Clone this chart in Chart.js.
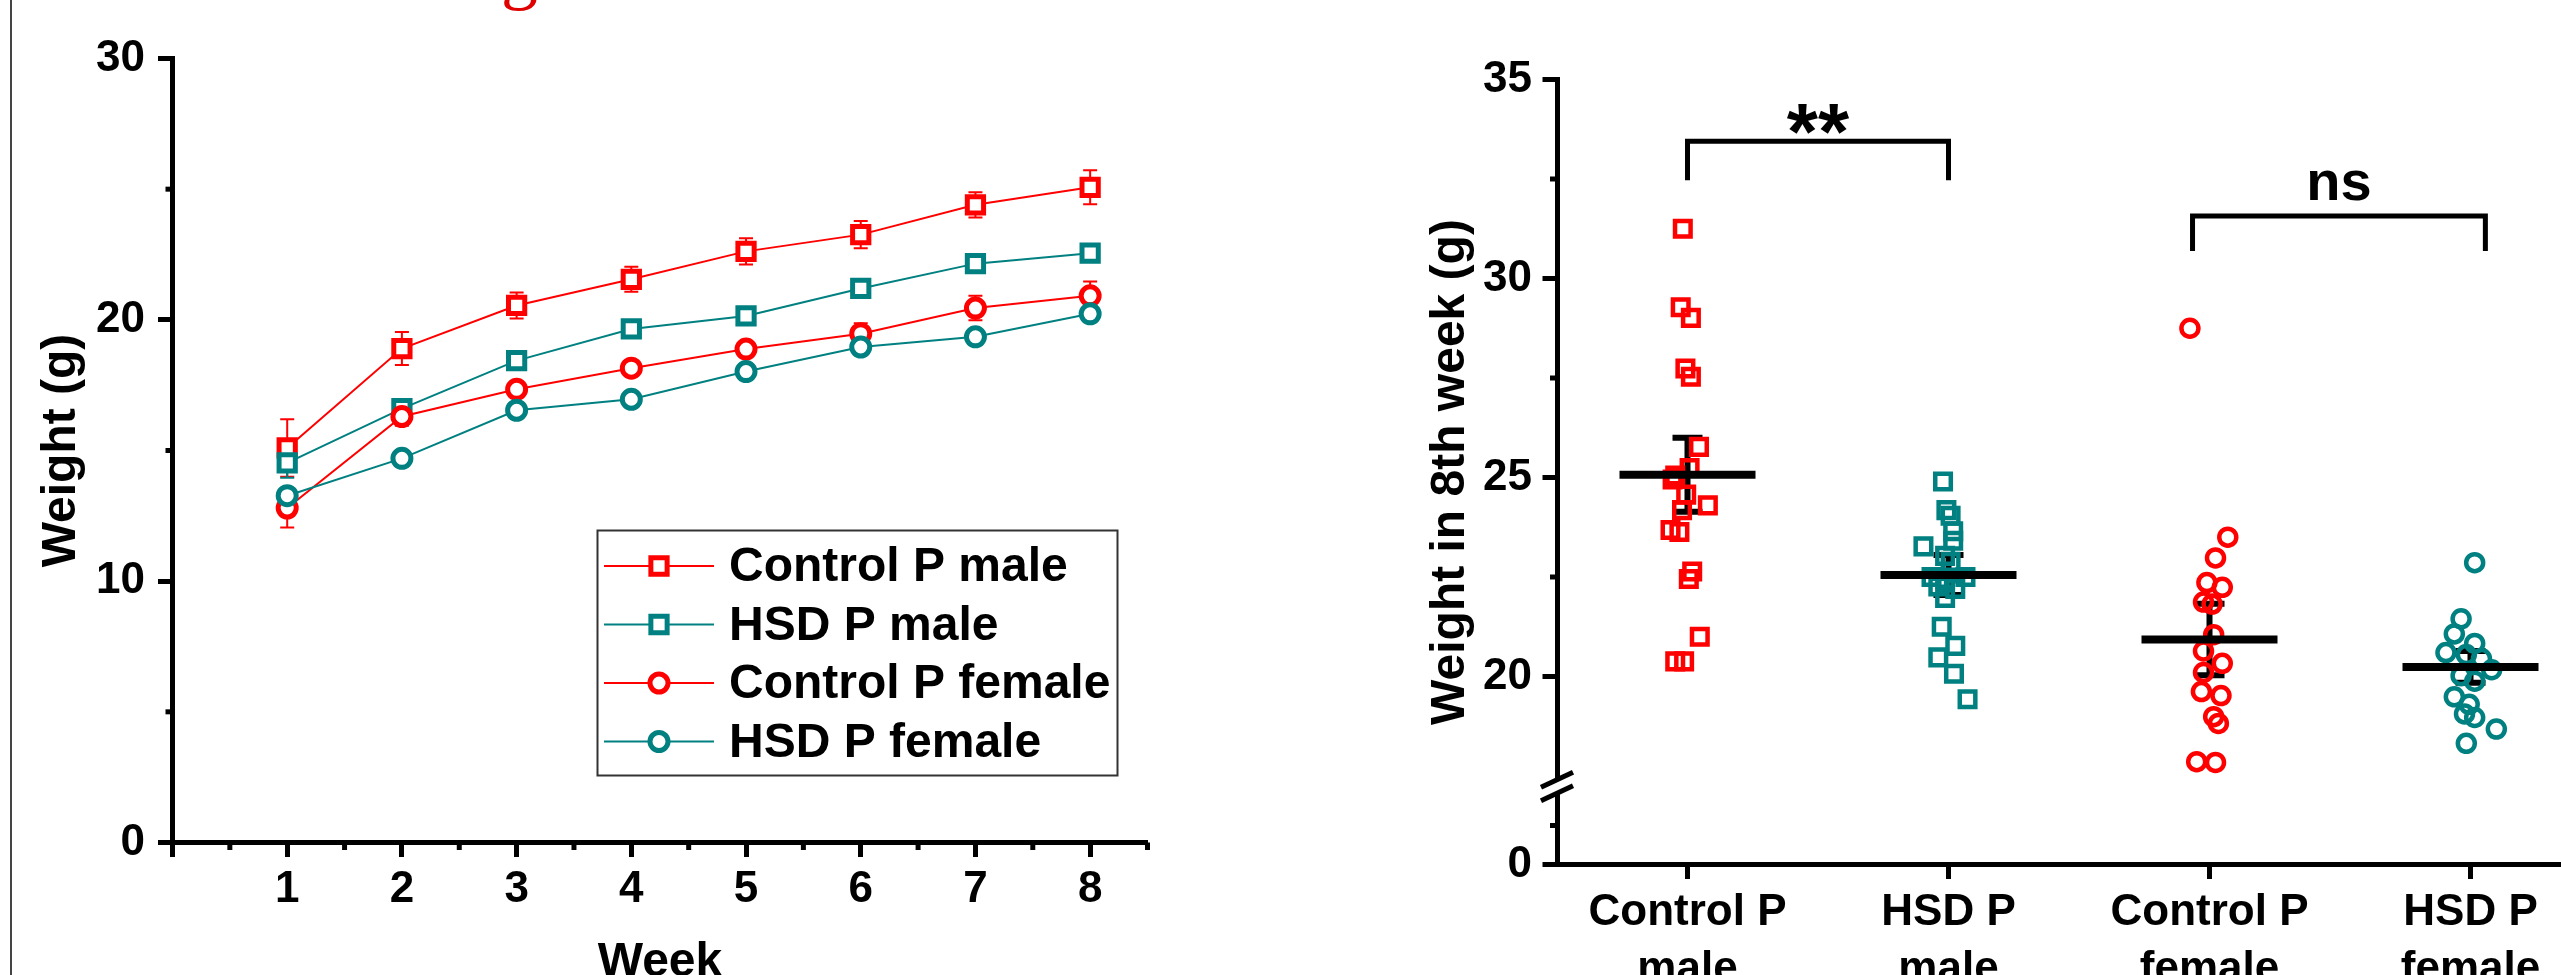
<!DOCTYPE html>
<html>
<head>
<meta charset="utf-8">
<title>Body weight</title>
<script src="https://cdn.jsdelivr.net/npm/chart.js@4.4.1/dist/chart.umd.min.js"></script>
<style>
  html, body { margin: 0; padding: 0; background: #fff; }
  body { position: relative; width: 2561px; height: 975px; overflow: hidden; }
  canvas { position: absolute; top: 0; }
  #weightChart { left: 0; }
  #week8Chart { left: 1300px; }
  .frame { position: absolute; left: 10px; top: 0; width: 2px; height: 975px; background: #444; }
  .cut-title { position: absolute; left: 501px; top: -67px; font: 74px/74px "Liberation Serif", serif; color: #e00000; white-space: nowrap; }
</style>
</head>
<body>
<div class="frame"></div>
<div class="cut-title">g</div>
<canvas id="weightChart" width="1200" height="1000"></canvas>
<canvas id="week8Chart" width="1320" height="1000"></canvas>
<script>
// ---- left panel: weekly weight, mean ± SEM ----
const weeks = [1, 2, 3, 4, 5, 6, 7, 8];
const weekTicks = [0, 1, 2, 3, 4, 5, 6, 7, 8];
const weekMinorTicks = [0.5, 1.5, 2.5, 3.5, 4.5, 5.5, 6.5, 7.5, 8.5];
const weightTicks = [0, 10, 20, 30];
const weightMinorTicks = [5, 15, 25];

const controlMale = [15.1, 18.9, 20.55, 21.55, 22.62, 23.26, 24.4, 25.07];
const controlMaleSem = [1.1, 0.63, 0.5, 0.48, 0.5, 0.52, 0.48, 0.65];
const hsdMale = [14.53, 16.6, 18.44, 19.65, 20.15, 21.2, 22.15, 22.55];
const hsdMaleSem = [0.57, 0.3, 0.3, 0.3, 0.3, 0.3, 0.3, 0.3];
const controlFemale = [12.8, 16.3, 17.34, 18.15, 18.88, 19.47, 20.45, 20.92];
const controlFemaleSem = [0.75, 0.35, 0.3, 0.3, 0.3, 0.4, 0.47, 0.55];
const hsdFemale = [13.27, 14.7, 16.54, 16.96, 18.02, 18.96, 19.35, 20.23];
const hsdFemaleSem = [0.3, 0.3, 0.3, 0.3, 0.3, 0.3, 0.3, 0.3];

// ---- right panel: weight in 8th week, individual animals ----
const groups = ["Control P male", "HSD P male", "Control P female", "HSD P female"];
const groupTickLabels = [["Control P", "male"], ["HSD P", "male"], ["Control P", "female"], ["HSD P", "female"]];
const week8Ticks = [20, 25, 30, 35];
const week8MinorTicks = [22.5, 27.5, 32.5];
const week8LowTicks = [0];
const week8LowMinorTicks = [1];

const controlMale8 = [31.25, 29.28, 29.01, 27.74, 27.53, 25.77, 25.24, 25.05, 24.95, 24.57, 24.3, 24.18, 23.68, 23.63, 22.64, 22.45, 21.0, 20.38, 20.38];
const controlMale8Jitter = [-0.018, -0.026, 0.013, -0.008, 0.013, 0.044, 0.008, -0.047, -0.057, -0.005, 0.078, -0.021, -0.065, -0.031, 0.018, 0.005, 0.047, -0.047, -0.013];
const hsdMale8 = [24.9, 24.18, 24.04, 23.65, 23.41, 23.27, 23.03, 22.88, 22.5, 22.45, 22.5, 22.26, 22.2, 21.97, 21.25, 20.77, 20.48, 20.07, 19.43];
const hsdMale8Jitter = [-0.021, -0.008, 0.008, 0.018, 0.018, -0.096, -0.013, 0.008, -0.065, -0.013, 0.065, -0.039, 0.026, -0.013, -0.026, 0.026, -0.039, 0.021, 0.073];
const controlFemale8 = [28.75, 23.5, 22.98, 22.36, 22.24, 21.87, 21.82, 21.05, 20.64, 20.33, 20.1, 19.62, 19.52, 18.99, 18.82, 17.86, 17.84];
const controlFemale8Jitter = [-0.075, 0.07, 0.023, -0.01, 0.049, -0.023, 0.01, 0.016, -0.023, 0.049, -0.023, -0.031, 0.044, 0.016, 0.034, -0.049, 0.023];
const hsdFemale8 = [22.86, 21.45, 21.07, 20.83, 20.6, 20.55, 20.45, 20.17, 20.02, 19.88, 19.49, 19.3, 19.06, 18.97, 18.68, 18.32];
const hsdFemale8Jitter = [0.016, -0.036, -0.062, 0.016, -0.094, -0.016, 0.042, 0.081, -0.036, 0.016, -0.062, -0.005, -0.023, 0.016, 0.099, -0.016];

const week8Means = [25.07, 22.55, 20.93, 20.24];
const week8Sems = [0.93, 0.5, 0.9, 0.4];

// brackets: x extent in category units, y in grams
const comparisons = [
  { from: 0, to: 1, top: 33.45, foot: 32.47, text: "**" },
  { from: 1.935, to: 3.057, top: 31.57, foot: 30.69, text: "ns" }
];

const RED = "#ff0000";
const TEAL = "#008080";
const FAMILY = '"Liberation Sans", Arial, sans-serif';

Chart.defaults.font.family = FAMILY;
Chart.defaults.color = "#000";

function boldFont(size, lineHeight) {
  return { family: FAMILY, size, weight: "bold", lineHeight: lineHeight || 1.2 };
}

function axisStyle() {
  return {
    grid: { drawOnChartArea: false, drawTicks: true, tickLength: 14.5, tickWidth: 5, tickColor: "#000" },
    border: { display: true, color: "#000", width: 5 }
  };
}

function fixedTicks(values) {
  return (scale) => {
    scale.ticks = values.map((value) => ({ value }));
  };
}

// short ticks between the labelled ones
function minorTicks(list) {
  return {
    id: "minorTicks",
    afterDraw(chart) {
      const { ctx } = chart;
      ctx.save();
      ctx.strokeStyle = "#000";
      ctx.lineWidth = 5;
      list.forEach(({ axis, values }) => {
        const scale = chart.scales[axis];
        values.forEach((value) => {
          const p = scale.getPixelForValue(value);
          ctx.beginPath();
          if (scale.isHorizontal()) {
            ctx.moveTo(p, scale.top);
            ctx.lineTo(p, scale.top + 7.5);
          } else {
            ctx.moveTo(scale.right - 7, p);
            ctx.lineTo(scale.right, p);
          }
          ctx.stroke();
        });
      });
      ctx.restore();
    }
  };
}

// ---------- left chart ----------
function weekSeries(label, values, sems, color, style, radius, order) {
  return {
    label,
    order,
    data: values.map((v, i) => ({ x: weeks[i], y: v })),
    sems,
    borderColor: color,
    borderWidth: 2,
    pointStyle: style,
    pointRadius: radius,
    pointBorderWidth: 5,
    pointBorderColor: color,
    pointBackgroundColor: "#fff",
    tension: 0,
    fill: false
  };
}

const weekDatasets = [
  weekSeries("Control P male", controlMale, controlMaleSem, RED, "rect", 11.5, 4),
  weekSeries("HSD P male", hsdMale, hsdMaleSem, TEAL, "rect", 11.5, 3),
  weekSeries("Control P female", controlFemale, controlFemaleSem, RED, "circle", 9, 2),
  weekSeries("HSD P female", hsdFemale, hsdFemaleSem, TEAL, "circle", 9, 1)
];

const errorBars = {
  id: "errorBars",
  beforeDatasetsDraw(chart) {
    const { ctx, scales: { x, y } } = chart;
    chart.data.datasets.forEach((ds) => {
      ctx.save();
      ctx.strokeStyle = ds.borderColor;
      ctx.lineWidth = 2;
      ds.data.forEach((p, i) => {
        const px = x.getPixelForValue(p.x);
        const top = y.getPixelForValue(p.y + ds.sems[i]);
        const bottom = y.getPixelForValue(p.y - ds.sems[i]);
        ctx.beginPath();
        ctx.moveTo(px, top);
        ctx.lineTo(px, bottom);
        ctx.moveTo(px - 7, top);
        ctx.lineTo(px + 7, top);
        ctx.moveTo(px - 7, bottom);
        ctx.lineTo(px + 7, bottom);
        ctx.stroke();
      });
      ctx.restore();
    });
  }
};

const boxLegend = {
  id: "boxLegend",
  afterDraw(chart) {
    const { ctx } = chart;
    ctx.save();
    ctx.strokeStyle = "#333";
    ctx.lineWidth = 2;
    ctx.strokeRect(597.5, 530.5, 520, 245);
    ctx.font = "bold 48px " + FAMILY;
    ctx.textBaseline = "middle";
    ctx.textAlign = "left";
    chart.data.datasets.forEach((ds, i) => {
      const rowY = 566 + i * 58.5;
      ctx.strokeStyle = ds.borderColor;
      ctx.lineWidth = 2;
      ctx.beginPath();
      ctx.moveTo(604, rowY);
      ctx.lineTo(714, rowY);
      ctx.stroke();
      ctx.fillStyle = "#fff";
      ctx.lineWidth = ds.pointBorderWidth;
      Chart.helpers.drawPoint(ctx, { pointStyle: ds.pointStyle, radius: ds.pointRadius, rotation: 0, borderWidth: ds.pointBorderWidth }, 659, rowY);
      ctx.fillStyle = "#000";
      ctx.fillText(ds.label, 729, rowY + 2);
    });
    ctx.restore();
  }
};

new Chart(document.getElementById("weightChart"), {
  type: "line",
  data: { datasets: weekDatasets },
  options: {
    responsive: false,
    animation: false,
    events: [],
    layout: { padding: { left: 0, top: 58.5, right: 52.5, bottom: 0 } },
    plugins: { legend: { display: false }, tooltip: { enabled: false } },
    scales: {
      x: {
        type: "linear",
        min: 0,
        max: 8.5,
        afterBuildTicks: fixedTicks(weekTicks),
        afterFit: (scale) => { scale.height = 157.5; },
        ticks: { font: boldFont(44), padding: 6, maxRotation: 0, autoSkip: false, callback: (v) => (v === 0 ? "" : String(v)) },
        title: { display: true, text: "Week", font: boldFont(48), padding: { top: 0, bottom: 8 } },
        ...axisStyle()
      },
      y: {
        type: "linear",
        min: 0,
        max: 30,
        afterBuildTicks: fixedTicks(weightTicks),
        afterFit: (scale) => { scale.width = 172.5; },
        ticks: { font: boldFont(44), padding: 13 },
        title: { display: true, text: "Weight (g)", font: boldFont(48), padding: { top: 33, bottom: 0 } },
        ...axisStyle()
      }
    }
  },
  plugins: [errorBars, boxLegend, minorTicks([{ axis: "x", values: weekMinorTicks }, { axis: "y", values: weightMinorTicks }])]
});

// ---------- right chart ----------
function groupSeries(label, index, values, jitter, color, style, radius) {
  return {
    label,
    data: values.map((v, i) => ({ x: index + jitter[i], y: v })),
    yAxisID: "y",
    showLine: false,
    pointStyle: style,
    pointRadius: radius,
    pointBorderWidth: 4.5,
    pointBorderColor: color,
    pointBackgroundColor: "rgba(0,0,0,0)"
  };
}

const week8Datasets = [
  groupSeries(groups[0], 0, controlMale8, controlMale8Jitter, RED, "rect", 11),
  groupSeries(groups[1], 1, hsdMale8, hsdMale8Jitter, TEAL, "rect", 11),
  groupSeries(groups[2], 2, controlFemale8, controlFemale8Jitter, RED, "circle", 8.5),
  groupSeries(groups[3], 3, hsdFemale8, hsdFemale8Jitter, TEAL, "circle", 8.5)
];

const week8Marks = {
  id: "week8Marks",
  beforeDatasetsDraw(chart) {
    const { ctx, scales: { x, y } } = chart;
    ctx.save();
    ctx.strokeStyle = "#000";
    ctx.lineWidth = 6;
    week8Means.forEach((m, i) => {
      const px = x.getPixelForValue(i);
      const top = y.getPixelForValue(m + week8Sems[i]);
      const bottom = y.getPixelForValue(m - week8Sems[i]);
      ctx.beginPath();
      ctx.moveTo(px, top);
      ctx.lineTo(px, bottom);
      ctx.moveTo(px - 15, top);
      ctx.lineTo(px + 15, top);
      ctx.moveTo(px - 15, bottom);
      ctx.lineTo(px + 15, bottom);
      ctx.stroke();
    });
    ctx.restore();
  },
  afterDatasetsDraw(chart) {
    const { ctx, scales: { x, y } } = chart;
    ctx.save();
    ctx.strokeStyle = "#000";
    ctx.lineWidth = 8;
    week8Means.forEach((m, i) => {
      const px = x.getPixelForValue(i);
      const py = y.getPixelForValue(m);
      ctx.beginPath();
      ctx.moveTo(px - 68, py);
      ctx.lineTo(px + 68, py);
      ctx.stroke();
    });
    ctx.restore();
  },
  afterDraw(chart) {
    const { ctx, scales: { x, y } } = chart;
    ctx.save();
    // significance brackets
    ctx.strokeStyle = "#000";
    ctx.lineWidth = 5;
    ctx.fillStyle = "#000";
    ctx.textAlign = "center";
    ctx.textBaseline = "alphabetic";
    comparisons.forEach((c) => {
      const x1 = x.getPixelForValue(c.from);
      const x2 = x.getPixelForValue(c.to);
      const top = y.getPixelForValue(c.top);
      const foot = y.getPixelForValue(c.foot);
      ctx.beginPath();
      ctx.moveTo(x1, foot);
      ctx.lineTo(x1, top);
      ctx.lineTo(x2, top);
      ctx.lineTo(x2, foot);
      ctx.stroke();
      if (c.text === "**") {
        ctx.font = "bold 80px " + FAMILY;
        ctx.fillText(c.text, (x1 + x2) / 2, top + 18);
      } else {
        ctx.font = "bold 56px " + FAMILY;
        ctx.fillText(c.text, (x1 + x2) / 2, top - 16);
      }
    });
    // axis break between the two y segments
    const bx = y.right;
    const by = y.bottom;
    ctx.fillStyle = "#fff";
    ctx.fillRect(bx - 4, by - 6.5, 8, 13);
    ctx.strokeStyle = "#000";
    ctx.lineWidth = 5;
    [-6.75, 6.75].forEach((dy) => {
      ctx.beginPath();
      ctx.moveTo(bx - 16, by + dy + 7.5);
      ctx.lineTo(bx + 16, by + dy - 7.5);
      ctx.stroke();
    });
    // y axis title spans both segments
    ctx.translate(164, (chart.chartArea.top + chart.chartArea.bottom) / 2);
    ctx.rotate(-Math.PI / 2);
    ctx.fillStyle = "#000";
    ctx.font = "bold 48px " + FAMILY;
    ctx.textAlign = "center";
    ctx.fillText("Weight in 8th week (g)", 0, 0);
    ctx.restore();
  }
};

new Chart(document.getElementById("week8Chart"), {
  type: "scatter",
  data: { datasets: week8Datasets },
  options: {
    responsive: false,
    animation: false,
    events: [],
    layout: { padding: { left: 0, top: 79.5, right: 19, bottom: 0 } },
    plugins: { legend: { display: false }, tooltip: { enabled: false } },
    scales: {
      x: {
        type: "linear",
        min: -0.5,
        max: 3.5,
        afterBuildTicks: fixedTicks([0, 1, 2, 3]),
        afterFit: (scale) => { scale.height = 135.5; },
        ticks: { font: boldFont(44, 1.3), padding: 5, maxRotation: 0, autoSkip: false, callback: (v) => groupTickLabels[v] },
        ...axisStyle()
      },
      yLow: {
        type: "linear",
        position: "left",
        stack: "week8",
        stackWeight: 78,
        weight: 0,
        min: 0,
        max: 2,
        afterBuildTicks: fixedTicks(week8LowTicks),
        afterFit: (scale) => { scale.width = 257; },
        ticks: { font: boldFont(44), padding: 10.5 },
        ...axisStyle()
      },
      y: {
        type: "linear",
        position: "left",
        stack: "week8",
        stackWeight: 707,
        weight: 1,
        min: 17.236,
        max: 35,
        afterBuildTicks: fixedTicks(week8Ticks),
        afterFit: (scale) => { scale.width = 257; },
        ticks: { font: boldFont(44), padding: 10.5 },
        ...axisStyle()
      }
    }
  },
  plugins: [week8Marks, minorTicks([{ axis: "y", values: week8MinorTicks }, { axis: "yLow", values: week8LowMinorTicks }])]
});
</script>
</body>
</html>
